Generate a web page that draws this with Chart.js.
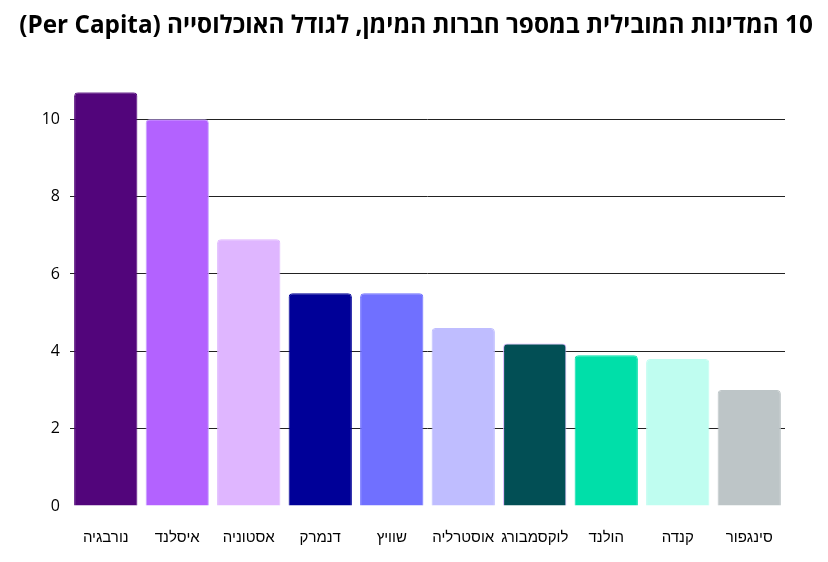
<!DOCTYPE html>
<html lang="he">
<head>
    <meta charset="UTF-8">
    <title>10 המדינות המובילית במספר חברות המימן</title>
    <script src="https://cdn.jsdelivr.net/npm/chart.js"></script>
    <style>
        html, body { margin: 0; padding: 0; background: #fff; }
        canvas { display: block; }
    </style>
</head>
<body>

    <canvas id="grafico" width="828" height="562" dir="rtl"></canvas>

    <script>
        const titolo = '10 המדינות המובילית במספר חברות המימן, לגודל האוכלוסייה (Per Capita)';
        const paesi = ['נורבגיה', 'איסלנד', 'אסטוניה', 'דנמרק', 'שוויץ', 'אוסטרליה', 'לוקסמבורג', 'הולנד', 'קנדה', 'סינגפור'];
        const valori = [10.7, 10.0, 6.9, 5.5, 5.5, 4.6, 4.2, 3.9, 3.8, 3.0];
        const colori = ['#52057b', '#b362ff', '#dfb6ff', '#000098', '#7070ff', '#bfbdff', '#024f55', '#00dfa9', '#bffdf0', '#bdc5c7'];
        const bordi = ['#52057b', '#c8a8ff', '#dfb6ff', '#000098', '#7070ff', '#bfbdff', '#d8b0ff', '#00dfa9', '#bffdf0', '#bdc5c7'];

        const ctx = document.getElementById('grafico').getContext('2d');
        const chart = new Chart(ctx, {
            type: 'bar',
            data: {
                labels: paesi,
                datasets: [{
                    data: valori,
                    backgroundColor: colori,
                    borderColor: bordi,
                    borderWidth: 1,
                    borderRadius: 4,
                    borderSkipped: 'bottom',
                    barPercentage: 0.885,
                    categoryPercentage: 1
                }]
            },
            options: {
                responsive: false,
                animation: false,
                layout: { padding: { left: 8, right: 4, top: 0, bottom: 0 } },
                plugins: {
                    legend: { display: false },
                    tooltip: { enabled: false },
                    title: {
                        display: true,
                        text: titolo,
                        color: '#000',
                        font: { family: 'Open Sans', size: 24.3, weight: 'bold' },
                        padding: { top: 11, bottom: 52 }
                    }
                },
                scales: {
                    x: {
                        grid: { display: false },
                        border: { display: false },
                        ticks: {
                            autoSkip: false,
                            color: '#000',
                            font: { family: 'Liberation Sans', size: 15 },
                            padding: 15,
                            maxRotation: 0
                        }
                    },
                    y: {
                        min: 0,
                        max: 10.7,
                        border: { display: false },
                        afterFit: (s) => { s.width = 62; },
                        grid: {
                            color: (c) => c.tick && c.tick.value === 0 ? 'rgba(0,0,0,0)' : '#222',
                            lineWidth: 1,
                            drawTicks: false
                        },
                        ticks: {
                            stepSize: 2,
                            includeBounds: false,
                            color: '#000',
                            font: { family: 'Open Sans', size: 16 },
                            padding: 10
                        }
                    },
                    // spazio vuoto a destra
                    y2: {
                        position: 'right',
                        display: true,
                        afterFit: (s) => { s.width = 39; },
                        grid: { display: false },
                        border: { display: false },
                        ticks: { display: false }
                    }
                }
            }
        });
    </script>

</body>
</html>
